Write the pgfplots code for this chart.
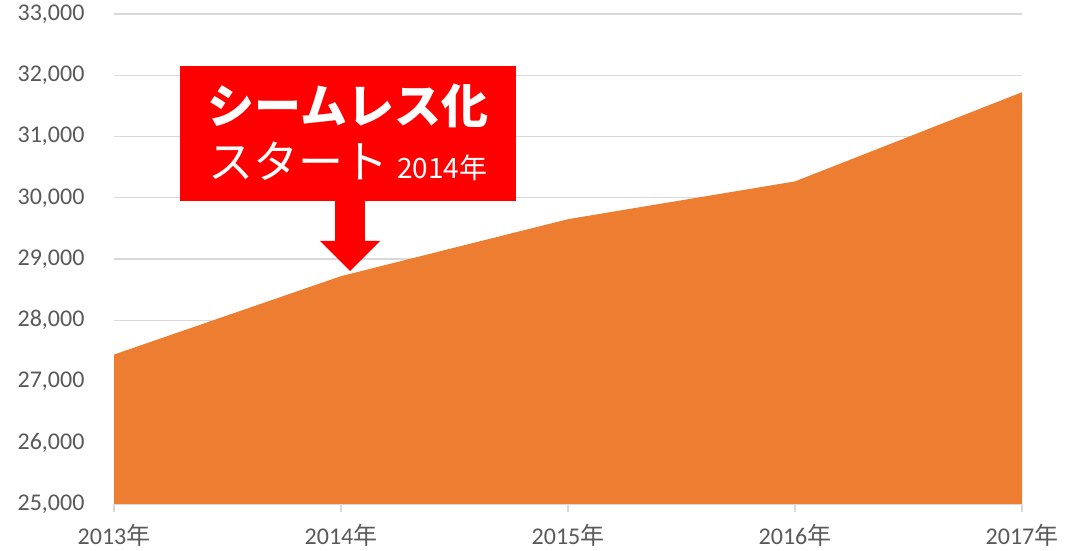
\documentclass[border=0pt]{standalone}
\usepackage{pgfplots}
\pgfplotsset{compat=1.18}
\usepackage{fontspec}
\setmainfont{Carlito}
\newfontfamily\cjk{Noto Sans CJK JP}
\definecolor{areaorange}{HTML}{ED7D31}
\definecolor{gridgray}{HTML}{D9D9D9}
\definecolor{labelgray}{HTML}{595959}
\definecolor{boxred}{HTML}{FF0000}
\begin{document}
\begin{tikzpicture}[x=1pt,y=1pt]
\useasboundingbox (0,0) rectangle (1089,551);
\begin{axis}[
  at={(114pt,47pt)}, anchor=south west,
  scale only axis, width=908pt, height=490pt,
  xmin=0, xmax=4, ymin=25000, ymax=33000,
  xtick={0,1,2,3,4},
  xticklabels={{2013{\cjk 年}},{2014{\cjk 年}},{2015{\cjk 年}},{2016{\cjk 年}},{2017{\cjk 年}}},
  ytick={25000,26000,...,33000},
  ymajorgrids, grid style={gridgray, line width=1.3pt},
  axis x line*=bottom, axis y line*=left,
  x axis line style={gridgray, line width=1.3pt, -},
  y axis line style={draw=none},
  ytick style={draw=none},
  xtick style={gridgray, line width=1.3pt},
  major tick length=8pt, tick align=outside,
  /pgf/number format/assume math mode=true,
  /pgf/number format/1000 sep={,},
  scaled y ticks=false,
  tick label style={font=\fontsize{24}{27}\selectfont, text=labelgray},
  yticklabel style={xshift=-18pt},
  xticklabel style={yshift=-9pt},
  clip=true,
]
\addplot[fill=areaorange, draw=none] coordinates {
  (0,27440) (1,28720) (2,29650) (3,30267) (4,31723)
} \closedcycle;
\end{axis}
% annotation box
\fill[boxred] (180,350) rectangle (516,485);
\fill[boxred] (335,351) rectangle (365,309);
\fill[boxred] (320,310) -- (380,310) -- (350,280) -- cycle;
\node[anchor=base, text=white, inner sep=0] at (348,427) {\cjk\bfseries\fontsize{47}{50}\selectfont シームレス化};
\node[anchor=base west, text=white, inner sep=0] at (208,372) {\cjk\fontsize{45}{48}\selectfont スタート};
\node[anchor=base west, text=white, inner sep=0] at (397,372) {\cjk\fontsize{28}{30}\selectfont 2014年};
\end{tikzpicture}
\end{document}
